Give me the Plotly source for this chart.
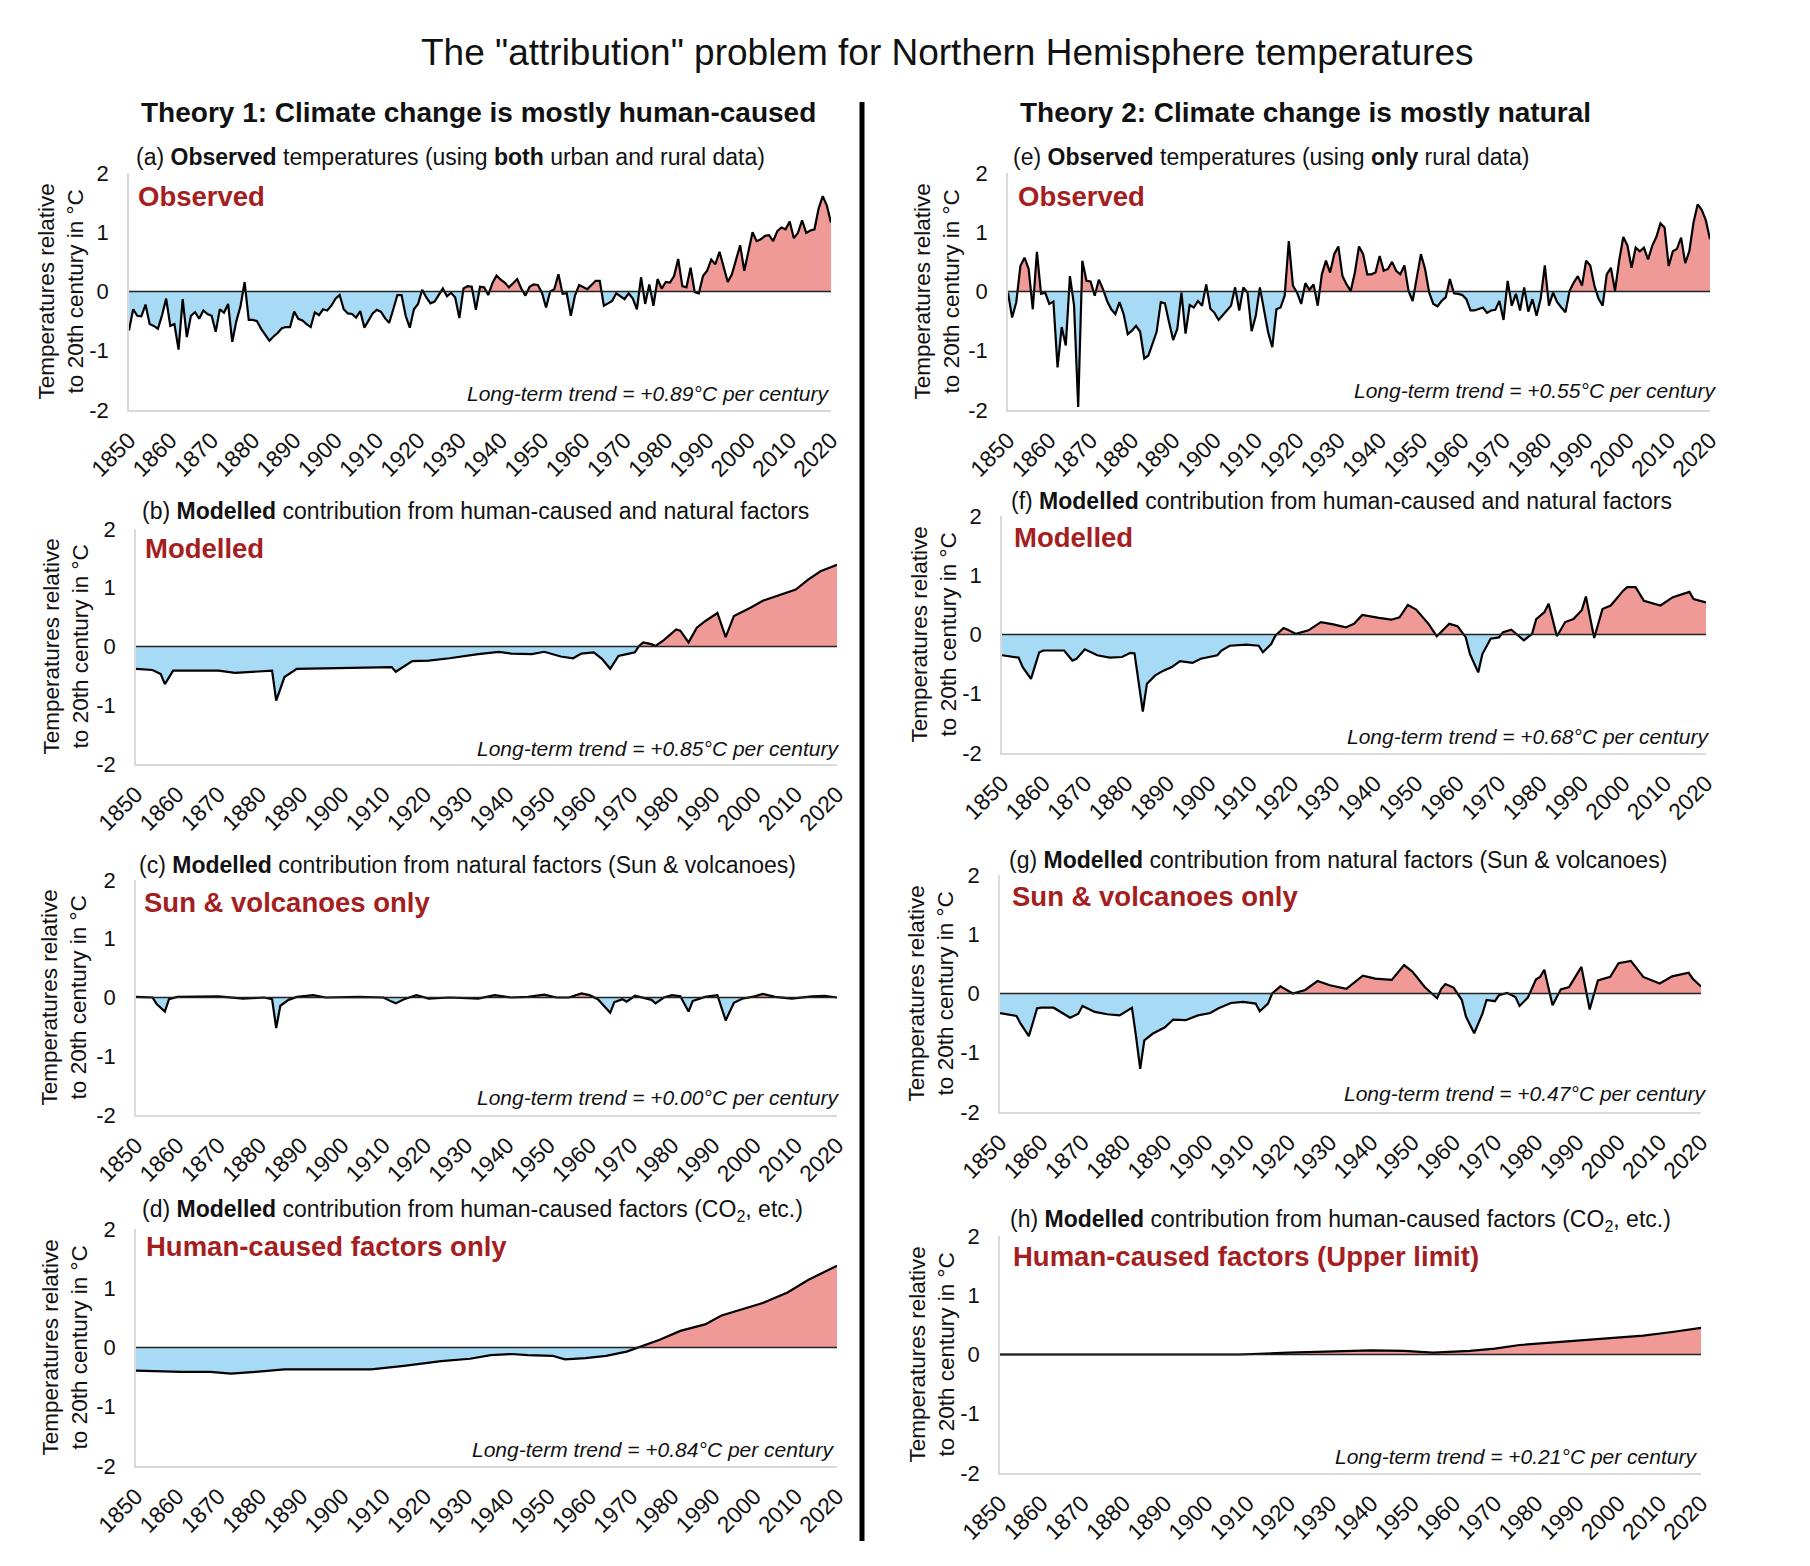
import plotly.graph_objects as go

# ---------------- DATA ----------------
obs_a = [
    -0.66, -0.30, -0.41, -0.42, -0.22, -0.55, -0.58, -0.63, -0.40, -0.12,
    -0.58, -0.55, -0.98, -0.13, -0.77, -0.41, -0.35, -0.46, -0.32, -0.38,
    -0.41, -0.68, -0.30, -0.36, -0.21, -0.85, -0.50, -0.25, 0.16, -0.48,
    -0.48, -0.50, -0.63, -0.72, -0.83, -0.76, -0.70, -0.62, -0.60, -0.60,
    -0.34, -0.46, -0.49, -0.55, -0.60, -0.35, -0.40, -0.30, -0.32, -0.24,
    -0.12, -0.06, -0.30, -0.37, -0.38, -0.44, -0.33, -0.61, -0.48, -0.37,
    -0.31, -0.34, -0.45, -0.53, -0.30, -0.06, -0.06, -0.41, -0.61, -0.30,
    -0.21, 0.03, -0.10, -0.20, -0.17, -0.07, 0.05, -0.08, -0.02, -0.10,
    -0.45, 0.05, 0.09, 0.08, -0.31, 0.08, 0.07, -0.06, 0.14, 0.27,
    0.20, 0.15, 0.07, 0.14, 0.21, 0.05, -0.07, 0.08, 0.12, 0.11,
    -0.02, -0.27, 0.00, 0.04, 0.29, -0.04, -0.03, -0.41, -0.07, 0.11,
    0.07, 0.04, 0.11, 0.18, 0.18, -0.24, -0.20, -0.16, -0.03, -0.08,
    -0.13, -0.03, -0.12, -0.30, 0.24, -0.21, 0.12, -0.24, 0.21, 0.05,
    0.16, 0.15, 0.26, 0.55, 0.09, 0.07, 0.40, -0.01, -0.03, 0.26,
    0.35, 0.54, 0.46, 0.67, 0.40, 0.16, 0.29, 0.52, 0.78, 0.35,
    0.66, 1.00, 0.85, 0.88, 0.94, 0.95, 0.85, 1.02, 1.08, 1.05,
    1.18, 0.90, 0.99, 1.20, 0.99, 1.03, 1.05, 1.40, 1.61, 1.45,
    1.16]

obs_e = [
    -0.02, -0.44, -0.18, 0.43, 0.57, 0.38, -0.30, 0.67, -0.04, -0.02,
    -0.21, -0.17, -1.28, -0.60, -0.91, 0.26, -0.24, -1.95, 0.52, 0.18,
    0.17, -0.07, 0.20, 0.04, -0.16, -0.30, -0.38, -0.18, -0.38, -0.72,
    -0.66, -0.58, -0.68, -1.13, -1.08, -0.88, -0.68, -0.18, -0.20, -0.52,
    -0.82, -0.63, -0.02, -0.71, -0.23, -0.27, -0.16, -0.24, 0.12, -0.29,
    -0.36, -0.48, -0.40, -0.32, -0.24, 0.07, -0.32, 0.07, -0.02, -0.67,
    -0.41, 0.07, -0.32, -0.69, -0.94, -0.30, -0.27, -0.07, 0.85, 0.10,
    -0.02, -0.21, 0.14, 0.03, 0.12, -0.24, 0.29, 0.52, 0.32, 0.63,
    0.76, 0.26, 0.12, 0.01, 0.32, 0.76, 0.63, 0.29, 0.29, 0.32,
    0.60, 0.35, 0.38, 0.50, 0.35, 0.29, 0.44, 0.01, -0.16, 0.24,
    0.63, 0.38, -0.02, -0.21, -0.25, -0.16, -0.10, 0.21, -0.03, -0.04,
    -0.06, -0.13, -0.32, -0.32, -0.30, -0.27, -0.36, -0.32, -0.31, -0.16,
    -0.48, 0.18, -0.24, -0.04, -0.32, 0.07, -0.34, -0.13, -0.41, -0.12,
    0.44, -0.24, -0.02, -0.18, -0.27, -0.35, 0.01, 0.15, 0.26, 0.10,
    0.52, 0.44, 0.10, -0.12, -0.24, 0.29, 0.40, 0.01, 0.52, 0.92,
    0.78, 0.40, 0.74, 0.68, 0.74, 0.54, 0.77, 0.92, 1.15, 1.08,
    0.43, 0.68, 0.72, 0.91, 0.48, 0.68, 1.16, 1.47, 1.38, 1.20,
    0.88]

obs_years = list(range(1850, 2021))

b_years = [1850, 1854, 1856, 1857, 1859, 1864, 1870, 1874, 1881, 1883, 1884, 1886, 1889, 1896,
           1903, 1910, 1912, 1913, 1915, 1917, 1921, 1926, 1933, 1938, 1941, 1946, 1949, 1953,
           1956, 1958, 1961, 1963, 1965, 1967, 1969, 1971, 1972, 1973, 1975, 1976, 1978, 1981,
           1982, 1984, 1986, 1988, 1991, 1993, 1995, 1999, 2002, 2006, 2010, 2013, 2016, 2020]
b_vals = [-0.38, -0.40, -0.47, -0.64, -0.41, -0.41, -0.41, -0.45, -0.42, -0.41, -0.92, -0.52,
          -0.38, -0.37, -0.35, -0.34, -0.35, -0.43, -0.34, -0.25, -0.24, -0.20, -0.13, -0.09,
          -0.12, -0.13, -0.09, -0.17, -0.20, -0.12, -0.10, -0.21, -0.38, -0.16, -0.13, -0.10,
          0.01, 0.07, 0.04, 0.01, 0.11, 0.29, 0.27, 0.07, 0.32, 0.43, 0.57, 0.16, 0.52, 0.66,
          0.78, 0.88, 0.97, 1.14, 1.28, 1.39]

c_years = [1850, 1854, 1855, 1857, 1858, 1860, 1870, 1876, 1881, 1883, 1884, 1885, 1887, 1889,
           1893, 1896, 1904, 1910, 1912, 1913, 1915, 1918, 1921, 1926, 1933, 1937, 1941, 1945,
           1949, 1952, 1955, 1958, 1960, 1962, 1965, 1966, 1968, 1969, 1971, 1973, 1975, 1976,
           1978, 1980, 1982, 1984, 1985, 1988, 1991, 1993, 1995, 1997, 2000, 2002, 2005, 2009,
           2014, 2017, 2020]
c_vals = [0.01, 0.00, -0.11, -0.24, -0.03, 0.01, 0.02, -0.02, 0.00, -0.03, -0.52, -0.14, -0.04,
          0.01, 0.04, 0.00, 0.01, 0.00, -0.07, -0.10, -0.03, 0.04, -0.02, 0.00, -0.02, 0.04,
          0.00, 0.01, 0.05, 0.00, 0.00, 0.07, 0.04, -0.03, -0.26, -0.08, -0.03, -0.07, 0.03,
          0.00, -0.04, -0.10, 0.00, 0.04, 0.02, -0.24, -0.06, 0.01, 0.04, -0.39, -0.09, -0.02,
          0.02, 0.06, 0.01, -0.02, 0.02, 0.03, 0.00]

d_years = [1850, 1861, 1868, 1873, 1879, 1886, 1895, 1907, 1915, 1924, 1931, 1936, 1941, 1945,
           1951, 1954, 1959, 1964, 1969, 1972, 1977, 1982, 1988, 1992, 1998, 2002, 2008, 2013, 2020]
d_vals = [-0.39, -0.41, -0.41, -0.44, -0.41, -0.37, -0.37, -0.37, -0.31, -0.23, -0.19, -0.13,
          -0.11, -0.13, -0.14, -0.20, -0.18, -0.14, -0.07, 0.01, 0.13, 0.28, 0.39, 0.54, 0.66,
          0.75, 0.93, 1.14, 1.38]

f_years = [1850, 1854, 1855, 1857, 1859, 1860, 1865, 1867, 1868, 1870, 1873, 1876, 1879, 1881,
           1882, 1883, 1884, 1885, 1887, 1889, 1891, 1893, 1896, 1898, 1902, 1903, 1905, 1909,
           1912, 1913, 1915, 1916, 1918, 1919, 1921, 1924, 1927, 1930, 1933, 1935, 1937, 1941,
           1944, 1946, 1948, 1950, 1953, 1955, 1957, 1958, 1960, 1962, 1963, 1965, 1966, 1968,
           1970, 1971, 1973, 1974, 1976, 1978, 1979, 1981, 1982, 1984, 1986, 1988, 1990, 1991,
           1993, 1995, 1997, 2000, 2001, 2003, 2005, 2009, 2012, 2016, 2017, 2020]
f_vals = [-0.35, -0.39, -0.55, -0.75, -0.30, -0.27, -0.27, -0.44, -0.41, -0.25, -0.35, -0.39,
          -0.38, -0.31, -0.32, -0.83, -1.30, -0.83, -0.69, -0.61, -0.55, -0.45, -0.48, -0.41,
          -0.35, -0.27, -0.19, -0.17, -0.19, -0.30, -0.16, -0.02, 0.11, 0.08, 0.01, 0.07, 0.21,
          0.17, 0.12, 0.18, 0.33, 0.28, 0.25, 0.29, 0.50, 0.42, 0.18, -0.03, 0.10, 0.18, 0.14,
          -0.05, -0.33, -0.64, -0.33, -0.07, -0.05, 0.04, 0.08, 0.02, -0.10, 0.01, 0.26, 0.38,
          0.52, -0.03, 0.21, 0.26, 0.41, 0.64, -0.06, 0.43, 0.49, 0.74, 0.80, 0.80, 0.57, 0.49,
          0.63, 0.72, 0.60, 0.54]

g_years = [1850, 1854, 1855, 1857, 1859, 1860, 1863, 1866, 1867, 1869, 1870, 1873, 1876, 1879,
           1882, 1883, 1884, 1885, 1887, 1890, 1892, 1895, 1898, 1901, 1903, 1906, 1909, 1912,
           1913, 1915, 1916, 1918, 1919, 1921, 1924, 1927, 1930, 1934, 1938, 1941, 1945, 1948,
           1950, 1953, 1956, 1957, 1958, 1960, 1962, 1963, 1965, 1967, 1968, 1970, 1971, 1973,
           1975, 1976, 1978, 1980, 1981, 1982, 1984, 1986, 1988, 1991, 1993, 1995, 1998, 2000,
           2003, 2006, 2010, 2013, 2017, 2018, 2020]
g_vals = [-0.33, -0.38, -0.51, -0.72, -0.25, -0.24, -0.24, -0.37, -0.41, -0.34, -0.21, -0.31,
          -0.35, -0.37, -0.24, -0.73, -1.27, -0.79, -0.68, -0.57, -0.44, -0.45, -0.37, -0.33,
          -0.25, -0.16, -0.14, -0.17, -0.30, -0.17, 0.00, 0.12, 0.08, 0.00, 0.06, 0.21, 0.14,
          0.08, 0.30, 0.25, 0.23, 0.48, 0.37, 0.11, -0.08, 0.08, 0.16, 0.10, -0.11, -0.39,
          -0.67, -0.34, -0.11, -0.13, -0.03, 0.01, -0.06, -0.21, -0.07, 0.24, 0.28, 0.40, -0.20,
          0.07, 0.11, 0.45, -0.27, 0.22, 0.28, 0.51, 0.55, 0.28, 0.17, 0.29, 0.35, 0.25, 0.12]

h_years = [1850, 1880, 1908, 1920, 1930, 1940, 1948, 1955, 1964, 1970, 1976, 1984, 1991, 2000,
           2006, 2013, 2020]
h_vals = [0.00, 0.00, 0.00, 0.03, 0.05, 0.07, 0.06, 0.03, 0.06, 0.10, 0.16, 0.20, 0.24, 0.28,
          0.32, 0.38, 0.45]

x_tick_vals = list(range(1850, 2021, 10))
x_tick_text = [str(v) for v in x_tick_vals]
y_tick_vals = [-2, -1, 0, 1, 2]
y_tick_text = ["-2", "-1", "0", "1", "2"]

trends = ["+0.89", "+0.85", "+0.00", "+0.84", "+0.55", "+0.68", "+0.47", "+0.21"]

# ---------------- STYLE / LAYOUT CONFIG ----------------
W, H = 1810, 1566
FONT = "Liberation Sans, Arial, sans-serif"
RED_FILL = "#EF9A97"
BLUE_FILL = "#A7DBF5"
DARK_RED = "#A3201F"
AXIS_GREY = "#D9D9D9"
TXT = "#111111"

panels = [
    dict(x=obs_years, y=obs_a, box=(129, 831, 173, 410),
         title="(a) <b>Observed</b> temperatures (using <b>both</b> urban and rural data)", tpos=(134, 157),
         label="Observed", lpos=(136, 196), trpos=(831, 394), ylx=60),
    dict(x=b_years, y=b_vals, box=(136, 837, 529, 764),
         title="(b) <b>Modelled</b> contribution from human-caused and natural factors", tpos=(140, 511),
         label="Modelled", lpos=(143, 548), trpos=(841, 748), ylx=65),
    dict(x=c_years, y=c_vals, box=(136, 837, 880, 1115),
         title="(c) <b>Modelled</b> contribution from natural factors (Sun & volcanoes)", tpos=(137, 865),
         label="Sun & volcanoes only", lpos=(142, 902), trpos=(841, 1097), ylx=63),
    dict(x=d_years, y=d_vals, box=(136, 837, 1229, 1466),
         title="(d) <b>Modelled</b> contribution from human-caused factors (CO<sub>2</sub>, etc.)", tpos=(140, 1210),
         label="Human-caused factors only", lpos=(144, 1246), trpos=(836, 1449), ylx=64),
    dict(x=obs_years, y=obs_e, box=(1008, 1710, 173, 410),
         title="(e) <b>Observed</b> temperatures (using <b>only</b> rural data)", tpos=(1011, 157),
         label="Observed", lpos=(1016, 196), trpos=(1718, 391), ylx=936),
    dict(x=f_years, y=f_vals, box=(1002, 1706, 516, 753),
         title="(f) <b>Modelled</b> contribution from human-caused and natural factors", tpos=(1009, 501),
         label="Modelled", lpos=(1012, 537), trpos=(1711, 736), ylx=933),
    dict(x=g_years, y=g_vals, box=(1000, 1701, 875, 1112),
         title="(g) <b>Modelled</b> contribution from natural factors (Sun & volcanoes)", tpos=(1007, 860),
         label="Sun & volcanoes only", lpos=(1010, 896), trpos=(1708, 1093), ylx=931),
    dict(x=h_years, y=h_vals, box=(1000, 1701, 1236, 1473),
         title="(h) <b>Modelled</b> contribution from human-caused factors (CO<sub>2</sub>, etc.)", tpos=(1008, 1220),
         label="Human-caused factors (Upper limit)", lpos=(1011, 1256), trpos=(1699, 1456), ylx=931),
]


def px_x(v):
    return v / W


def px_y(v):
    return 1 - v / H


def split_fill(xs, ys):
    px_, py_, nx_, ny_ = [], [], [], []
    for i in range(len(xs)):
        if i > 0:
            y0, y1 = ys[i - 1], ys[i]
            if (y0 > 0 > y1) or (y0 < 0 < y1):
                xc = xs[i - 1] + (xs[i] - xs[i - 1]) * y0 / (y0 - y1)
                px_.append(xc); py_.append(0)
                nx_.append(xc); ny_.append(0)
        px_.append(xs[i]); py_.append(max(ys[i], 0))
        nx_.append(xs[i]); ny_.append(min(ys[i], 0))
    return px_, py_, nx_, ny_


fig = go.Figure()
layout = dict(
    width=W, height=H, autosize=False,
    margin=dict(l=0, r=0, t=0, b=0, pad=0, autoexpand=False),
    paper_bgcolor="white", plot_bgcolor="white", showlegend=False,
    font=dict(family=FONT, color=TXT),
)
annotations = []
shapes = []

for i, p in enumerate(panels, start=1):
    sfx = "" if i == 1 else str(i)
    xa, ya = "x" + sfx, "y" + sfx
    px_, py_, nx_, ny_ = split_fill(p["x"], p["y"])
    fig.add_trace(go.Scatter(x=px_, y=py_, xaxis=xa, yaxis=ya, mode="lines", fill="tozeroy",
                             fillcolor=RED_FILL, line=dict(width=0), hoverinfo="skip"))
    fig.add_trace(go.Scatter(x=nx_, y=ny_, xaxis=xa, yaxis=ya, mode="lines", fill="tozeroy",
                             fillcolor=BLUE_FILL, line=dict(width=0), hoverinfo="skip"))
    fig.add_trace(go.Scatter(x=p["x"], y=p["y"], xaxis=xa, yaxis=ya, mode="lines",
                             line=dict(color="black", width=2.2)))
    x0, x1, y0, y1 = p["box"]
    layout["xaxis" + sfx] = dict(
        domain=[px_x(x0), px_x(x1)], anchor=ya, range=[1850, 2020], automargin=False,
        tickmode="array", tickvals=x_tick_vals, ticktext=x_tick_text, tickangle=-45,
        showline=True, linecolor=AXIS_GREY, linewidth=1.5, showgrid=False, zeroline=False,
        ticks="", ticklabelstandoff=6, tickfont=dict(size=23, color=TXT, family=FONT),
    )
    layout["yaxis" + sfx] = dict(
        domain=[px_y(y1), px_y(y0)], anchor=xa, range=[-2, 2], automargin=False,
        tickmode="array", tickvals=y_tick_vals, ticktext=y_tick_text,
        showline=True, linecolor=AXIS_GREY, linewidth=1.5, showgrid=False, zeroline=False,
        ticks="", ticklabelstandoff=14, tickfont=dict(size=22, color=TXT, family=FONT),
    )
    shapes.append(dict(type="line", xref=xa + " domain", yref=ya, x0=0, x1=1, y0=0, y1=0,
                       line=dict(color="#222222", width=1.5), layer="above"))
    annotations.append(dict(text=p["title"], xref="paper", yref="paper",
                            x=px_x(p["tpos"][0]), y=px_y(p["tpos"][1]), xanchor="left", yanchor="middle",
                            showarrow=False, font=dict(size=23, family=FONT, color=TXT)))
    annotations.append(dict(text="<b>" + p["label"] + "</b>", xref="paper", yref="paper",
                            x=px_x(p["lpos"][0]), y=px_y(p["lpos"][1]), xanchor="left", yanchor="middle",
                            showarrow=False, font=dict(size=27.5, family=FONT, color=DARK_RED)))
    annotations.append(dict(text="<i>Long-term trend = " + trends[i - 1] + "°C per century</i>",
                            xref="paper", yref="paper",
                            x=px_x(p["trpos"][0]), y=px_y(p["trpos"][1]), xanchor="right", yanchor="middle",
                            showarrow=False, font=dict(size=21, family=FONT, color=TXT)))
    annotations.append(dict(text="Temperatures relative<br>to 20th century in °C", textangle=-90,
                            xref="paper", yref="paper",
                            x=px_x(p["ylx"]), y=px_y((y0 + y1) / 2), xanchor="center", yanchor="middle",
                            showarrow=False, font=dict(size=22.5, family=FONT, color=TXT)))

annotations.append(dict(text='The "attribution" problem for Northern Hemisphere temperatures',
                        xref="paper", yref="paper", x=px_x(947), y=px_y(52), xanchor="center",
                        yanchor="middle", showarrow=False, font=dict(size=37, family=FONT, color=TXT)))
annotations.append(dict(text="<b>Theory 1: Climate change is mostly human-caused</b>",
                        xref="paper", yref="paper", x=px_x(478), y=px_y(112), xanchor="center",
                        yanchor="middle", showarrow=False, font=dict(size=28, family=FONT, color=TXT)))
annotations.append(dict(text="<b>Theory 2: Climate change is mostly natural</b>",
                        xref="paper", yref="paper", x=px_x(1305), y=px_y(112), xanchor="center",
                        yanchor="middle", showarrow=False, font=dict(size=28, family=FONT, color=TXT)))

shapes.append(dict(type="line", xref="paper", yref="paper", x0=px_x(862), x1=px_x(862),
                   y0=px_y(102), y1=px_y(1541), line=dict(color="black", width=5)))

layout["annotations"] = annotations
layout["shapes"] = shapes
fig.update_layout(**layout)
fig.write_html("out.html")
